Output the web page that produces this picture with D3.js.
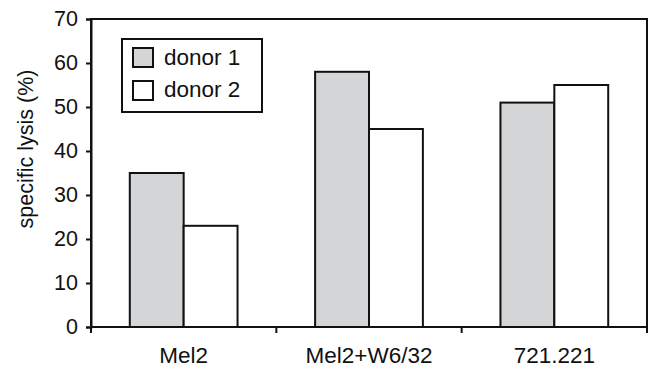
<!DOCTYPE html>
<html><head><meta charset="utf-8">
<script src="https://cdn.jsdelivr.net/npm/d3@7"></script>
<style>body{margin:0;background:#fff}svg{display:block;font-family:"Liberation Sans",Arial,sans-serif}</style>
</head><body>
<svg id="c" width="649" height="370"></svg>
<script>
const categories = ["Mel2", "Mel2+W6/32", "721.221"];
const seriesNames = ["donor 1", "donor 2"];
const donor1 = [35, 58, 51];
const donor2 = [23, 45, 55];
const yTicks = [0, 10, 20, 30, 40, 50, 60, 70];
const yLabel = "specific lysis (%)";

const svg = d3.select("#c");
const m = {l: 91, r: 2, t: 19, b: 43};
const W = 649, H = 370;
const x = d3.scaleBand().domain(categories).range([m.l, W - m.r]).paddingInner(0).paddingOuter(0);
const x1 = d3.scaleBand().domain(seriesNames).range([0, x.bandwidth()]).paddingInner(0).paddingOuter(0.72);
const y = d3.scaleLinear().domain([0, 70]).range([H - m.b, m.t]);
const fills = ["#d4d5d7", "#ffffff"];
const data = categories.map((c, i) => ({c, v: [donor1[i], donor2[i]]}));

// frame
svg.append("rect").attr("x", m.l).attr("y", m.t).attr("width", W - m.r - m.l).attr("height", y(0) - m.t)
  .attr("fill", "none").attr("stroke", "#111").attr("stroke-width", 2);

const g = svg.selectAll("g.cat").data(data).join("g").attr("transform", d => `translate(${x(d.c)},0)`);
g.selectAll("rect").data(d => d.v.map((v, j) => ({v, s: seriesNames[j], j}))).join("rect")
  .attr("x", d => x1(d.s)).attr("width", x1.bandwidth())
  .attr("y", d => y(d.v)).attr("height", d => y(0) - y(d.v))
  .attr("fill", d => fills[d.j]).attr("stroke", "#111").attr("stroke-width", 2);

// y axis
const ya = svg.append("g").attr("transform", `translate(${m.l},0)`)
  .call(d3.axisLeft(y).tickValues(yTicks).tickSize(5).tickPadding(8));
ya.select(".domain").attr("stroke", "#111").attr("stroke-width", 2);
ya.selectAll(".tick line").attr("stroke", "#111").attr("stroke-width", 2);
ya.selectAll("text").attr("font-size", 21.5).attr("fill", "#111").attr("font-family", "Liberation Sans, Arial, sans-serif");

// x axis
const boundaries = d3.range(categories.length + 1).map(i => m.l + i * x.bandwidth());
const xa = svg.append("g");
xa.selectAll("line").data(boundaries).join("line")
  .attr("x1", d => d).attr("x2", d => d).attr("y1", y(0)).attr("y2", y(0) + 6)
  .attr("stroke", "#111").attr("stroke-width", 2);
xa.append("line").attr("x1", m.l).attr("x2", W - m.r).attr("y1", y(0)).attr("y2", y(0)).attr("stroke", "#111").attr("stroke-width", 2);
xa.selectAll("text").data(categories).join("text")
  .attr("x", d => x(d) + x.bandwidth() / 2).attr("y", 363)
  .attr("text-anchor", "middle").attr("font-size", 22.5).attr("fill", "#111").text(d => d);

// y label
svg.append("text").attr("transform", `translate(32.5,149) rotate(-90)`)
  .attr("text-anchor", "middle").attr("font-size", 21.5).attr("fill", "#111").text(yLabel);

// legend
const lg = svg.append("g");
lg.append("rect").attr("x", 122).attr("y", 39).attr("width", 140).attr("height", 73)
  .attr("fill", "#fff").attr("stroke", "#111").attr("stroke-width", 2);
seriesNames.forEach((s, i) => {
  lg.append("rect").attr("x", 133).attr("y", 48 + i * 33).attr("width", 20).attr("height", 19)
    .attr("fill", fills[i]).attr("stroke", "#111").attr("stroke-width", 2);
  lg.append("text").attr("x", 164).attr("y", 65 + i * 32).attr("font-size", 22.5).attr("fill", "#111").text(s);
});
</script>
</body></html>
